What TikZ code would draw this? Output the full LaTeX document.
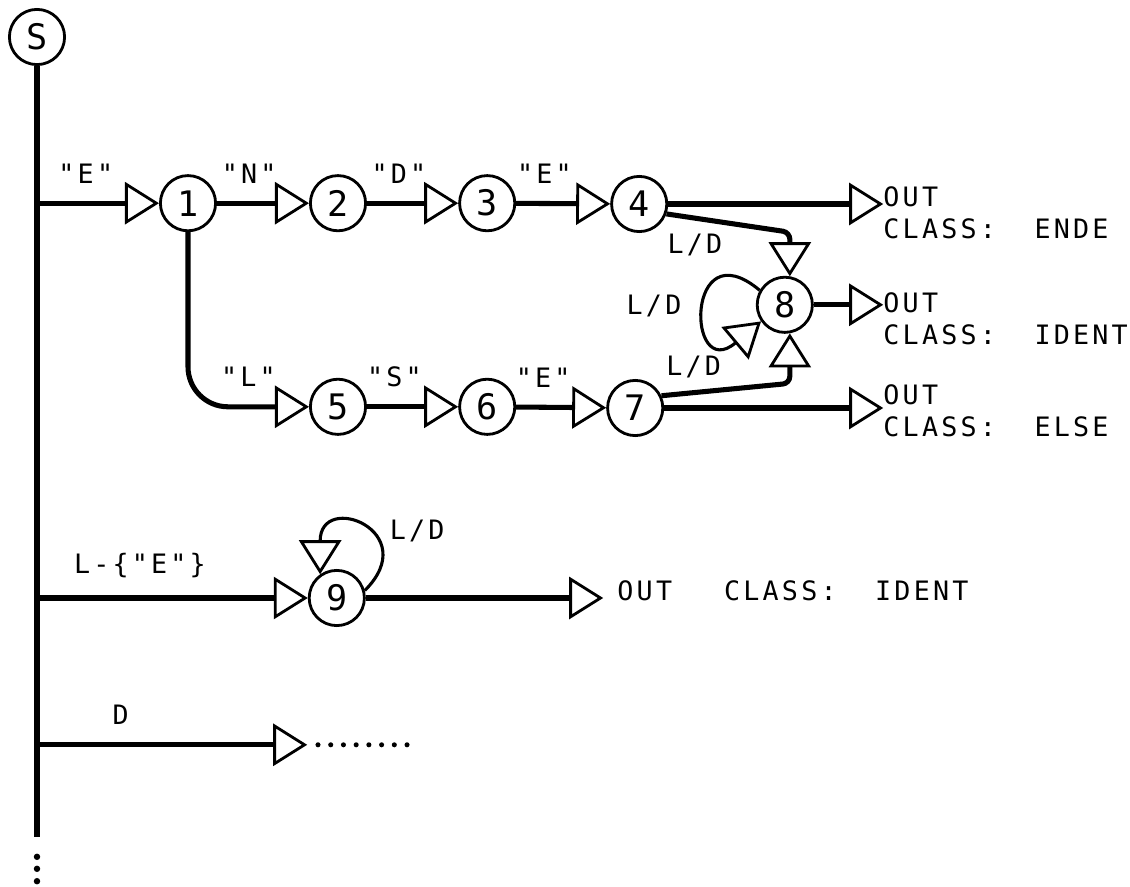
\documentclass[tikz,border=0pt]{standalone}
\usepackage{fontspec}
\setmainfont{DejaVu Sans Mono}
\newfontfamily\stencil[LetterSpace=12]{DejaVu Sans Mono}
\usetikzlibrary{arrows.meta,positioning,calc}

\begin{document}
\begin{tikzpicture}[
    state/.style={draw, circle, line width=2pt, minimum size=1.38cm, inner sep=0pt, font=\fontsize{25}{25}\selectfont},
    conn/.style={line width=3.6pt, -{Triangle[open, length=0.85cm, width=1.05cm, line width=2pt]}},
    loopline/.style={conn, line width=2.2pt},
    trunk/.style={line width=3.6pt},
    lbl/.style={font=\stencil\fontsize{19}{22.8}\selectfont, inner sep=1pt},
    outtext/.style={lbl, align=left, anchor=north west, inner sep=0pt}
]
\useasboundingbox (0,0) rectangle (28.25,-22.175);

% start state and the trunk
\node[state] (S) at (0.925,-0.925) {S};
\coordinate (bot) at (0.925,-20.92);
\draw[trunk] (S) -- (bot);
\foreach \y in {-21.42,-21.72,-22.03}
    \fill (0.925,\y) circle (2.3pt);

% branch points on the trunk
\coordinate (e1) at (0.925,-5.08);
\coordinate (e2) at (0.925,-14.95);
\coordinate (e3) at (0.925,-18.62);

% states
\node[state] (n1) at (4.7,-5.08) {1};
\node[state] (n2) at (8.45,-5.08) {2};
\node[state] (n3) at (12.18,-5.08) {3};
\node[state] (n4) at (15.98,-5.1) {4};
\node[state] (n5) at (8.45,-10.17) {5};
\node[state] (n6) at (12.18,-10.17) {6};
\node[state] (n7) at (15.88,-10.2) {7};
\node[state] (n8) at (19.62,-7.62) {8};
\node[state] (n9) at (8.42,-14.95) {9};

% outputs
\node[outtext] (o1) at (22.08,-4.66) {OUT\\CLASS:\ \ ENDE};
\node[outtext] (o2) at (22.08,-7.3) {OUT\\CLASS:\ \ IDENT};
\node[outtext] (o3) at (22.08,-9.62) {OUT\\CLASS:\ \ ELSE};
\node[outtext, inner xsep=0.35cm] (o4) at (15.08,-14.5) {OUT\hspace{1.3cm}CLASS:\ \ IDENT};
\coordinate (dd) at (7.68,-18.62);

% END / ELSE chains
\draw[conn] (e1) -- (n1) node[lbl, pos=0.4, above=0.4cm] {"E"};
\draw[conn] (n1) -- (n2) node[lbl, pos=0.35, above=0.4cm] {"N"};
\draw[conn] (n2) -- (n3) node[lbl, pos=0.35, above=0.4cm] {"D"};
\draw[conn] (n3) -- (n4) node[lbl, pos=0.3, above=0.4cm] {"E"};
\draw[conn, rounded corners=1cm] (n1) |- (n5) node[lbl, pos=0.75, above=0.4cm] {"L"};
\draw[conn] (n5) -- (n6) node[lbl, pos=0.3, above=0.4cm] {"S"};
\draw[conn] (n6) -- (n7) node[lbl, pos=0.3, above=0.4cm] {"E"};

% into the identifier state
\draw[conn, rounded corners=5pt] (n4.-20) -- node[lbl, pos=0.23, below=0.3cm] {L/D} ($(n8.80)+(0,1.1)$) -- (n8.80);
\draw[conn, rounded corners=5pt] (n7.25) -- node[lbl, pos=0.25, above=0.28cm] {L/D} ($(n8.-80)+(0,-1.25)$) -- (n8.-80);
\draw[loopline] (n8.150) to[out=140, in=220, looseness=8] node[lbl, pos=0.5, left=0.5cm] {L/D} (n8.215);

% exits
\draw[conn] (n4) -- (n4 -| o1.west);
\draw[conn] (n8) -- (n8 -| o2.west);
\draw[conn] (n7) -- (n7 -| o3.west);

% identifiers not starting with E
\draw[conn] (e2) -- (n9) node[lbl, pos=0.38, above=0.4cm] {L-\{"E"\}};
\draw[loopline] (n9.15) to[out=45, in=90, looseness=4.5] node[lbl, pos=0.3, anchor=south west, xshift=4pt] {L/D} (n9.125);
\draw[conn] (n9) -- (n9 -| o4.west);

% digits
\draw[conn] (e3) -- (dd) node[lbl, pos=0.31, above=0.4cm] {D};
\foreach \i in {0,...,7}
    \fill ($(dd)+(0.27+\i*0.318,0)$) circle (1.8pt);

\end{tikzpicture}
\end{document}
